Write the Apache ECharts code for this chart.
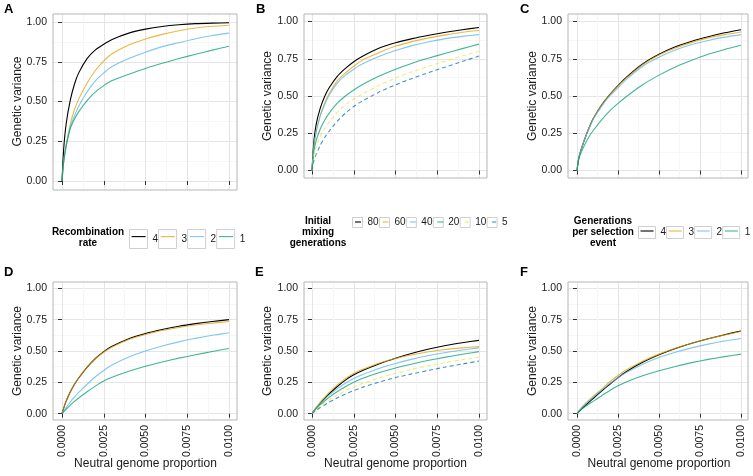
<!DOCTYPE html>
<html><head><meta charset="utf-8">
<script src="https://cdn.jsdelivr.net/npm/echarts@6/dist/echarts.min.js"></script>
<style>html,body{margin:0;padding:0;background:#fff}#c{width:753px;height:476px}</style>
</head><body><div id="c"></div>
<script>
// ---- data ----
const xValues = [0, 0.0001, 0.00025, 0.0005, 0.00075, 0.001, 0.0015, 0.002, 0.0025, 0.003, 0.004, 0.005, 0.006, 0.007, 0.008, 0.009, 0.01];

const recombLabels = ['4', '3', '2', '1'];
const mixingLabels = ['80', '60', '40', '20', '10', '5'];
const genLabels = ['4', '3', '2', '1'];
const yTickValues = [0, 0.25, 0.5, 0.75, 1];
const xTickValues = [0, 0.0025, 0.005, 0.0075, 0.01];

// Panel A: recombination rate
const aRate4 = [0, 0.20, 0.36, 0.51, 0.61, 0.68, 0.77, 0.825, 0.86, 0.89, 0.93, 0.955, 0.972, 0.983, 0.99, 0.993, 0.995];
const aRate3 = [0, 0.12, 0.23, 0.36, 0.45, 0.515, 0.615, 0.695, 0.755, 0.80, 0.855, 0.893, 0.922, 0.945, 0.962, 0.973, 0.98];
const aRate2 = [0, 0.12, 0.22, 0.34, 0.41, 0.47, 0.56, 0.63, 0.68, 0.72, 0.77, 0.81, 0.845, 0.87, 0.895, 0.915, 0.93];
const aRate1 = [0, 0.12, 0.22, 0.33, 0.39, 0.435, 0.505, 0.56, 0.60, 0.632, 0.672, 0.708, 0.74, 0.77, 0.797, 0.823, 0.848];
// Panel B: initial mixing generations
const bMix80 = [0, 0.18, 0.31, 0.42, 0.495, 0.55, 0.63, 0.685, 0.73, 0.765, 0.82, 0.857, 0.885, 0.908, 0.928, 0.945, 0.96];
const bMix60 = [0, 0.15, 0.26, 0.37, 0.45, 0.51, 0.60, 0.655, 0.70, 0.74, 0.79, 0.835, 0.865, 0.89, 0.91, 0.928, 0.94];
const bMix40 = [0, 0.15, 0.26, 0.37, 0.44, 0.50, 0.585, 0.64, 0.68, 0.715, 0.765, 0.805, 0.838, 0.864, 0.885, 0.90, 0.912];
const bMix20 = [0, 0.12, 0.20, 0.28, 0.335, 0.38, 0.45, 0.50, 0.54, 0.575, 0.632, 0.68, 0.72, 0.755, 0.787, 0.818, 0.848];
const bMix10 = [0, 0.10, 0.16, 0.23, 0.28, 0.32, 0.39, 0.44, 0.48, 0.513, 0.57, 0.62, 0.663, 0.70, 0.735, 0.768, 0.80];
const bMix5 = [0, 0.06, 0.11, 0.17, 0.22, 0.26, 0.33, 0.385, 0.43, 0.465, 0.525, 0.575, 0.618, 0.658, 0.695, 0.732, 0.768];
// Panel C: generations per selection event
const cGen4 = [0, 0.08, 0.14, 0.22, 0.29, 0.35, 0.44, 0.51, 0.57, 0.625, 0.715, 0.78, 0.83, 0.868, 0.898, 0.924, 0.945];
const cGen3 = [0, 0.08, 0.14, 0.22, 0.29, 0.35, 0.44, 0.51, 0.568, 0.62, 0.71, 0.775, 0.822, 0.86, 0.89, 0.912, 0.93];
const cGen2 = [0, 0.08, 0.14, 0.22, 0.285, 0.345, 0.43, 0.50, 0.555, 0.61, 0.70, 0.76, 0.808, 0.845, 0.873, 0.895, 0.912];
const cGen1 = [0, 0.07, 0.12, 0.18, 0.23, 0.27, 0.34, 0.40, 0.45, 0.495, 0.575, 0.64, 0.695, 0.74, 0.78, 0.812, 0.84];
// Panel D: recombination rate
const dRate4 = [0, 0.045, 0.10, 0.175, 0.235, 0.285, 0.37, 0.44, 0.495, 0.537, 0.598, 0.64, 0.672, 0.698, 0.718, 0.735, 0.75];
const dRate3 = [0, 0.045, 0.10, 0.175, 0.235, 0.285, 0.37, 0.438, 0.49, 0.532, 0.592, 0.632, 0.663, 0.688, 0.707, 0.722, 0.735];
const dRate2 = [0, 0.02, 0.05, 0.095, 0.135, 0.17, 0.235, 0.295, 0.345, 0.388, 0.452, 0.50, 0.54, 0.573, 0.601, 0.625, 0.645];
const dRate1 = [0, 0.015, 0.035, 0.068, 0.098, 0.125, 0.175, 0.22, 0.26, 0.29, 0.338, 0.378, 0.412, 0.443, 0.47, 0.496, 0.52];
// Panel E: initial mixing generations
const eMix80 = [0, 0.02, 0.045, 0.085, 0.12, 0.155, 0.215, 0.268, 0.31, 0.343, 0.397, 0.442, 0.482, 0.516, 0.544, 0.566, 0.585];
const eMix60 = [0, 0.022, 0.05, 0.093, 0.13, 0.165, 0.228, 0.28, 0.32, 0.352, 0.403, 0.44, 0.47, 0.494, 0.512, 0.525, 0.535];
const eMix40 = [0, 0.02, 0.045, 0.082, 0.115, 0.145, 0.198, 0.243, 0.28, 0.31, 0.36, 0.40, 0.435, 0.464, 0.488, 0.508, 0.525];
const eMix20 = [0, 0.018, 0.04, 0.072, 0.10, 0.128, 0.175, 0.215, 0.25, 0.28, 0.326, 0.365, 0.397, 0.426, 0.451, 0.474, 0.495];
const eMix10 = [0, 0.015, 0.033, 0.06, 0.085, 0.108, 0.148, 0.183, 0.213, 0.24, 0.285, 0.322, 0.354, 0.383, 0.408, 0.43, 0.45];
const eMix5 = [0, 0.012, 0.027, 0.05, 0.07, 0.09, 0.125, 0.157, 0.185, 0.21, 0.252, 0.288, 0.318, 0.346, 0.372, 0.396, 0.42];
// Panel F: generations per selection event
const fGen4 = [0, 0.015, 0.035, 0.065, 0.095, 0.123, 0.18, 0.235, 0.288, 0.335, 0.41, 0.47, 0.52, 0.562, 0.598, 0.63, 0.66];
const fGen3 = [0, 0.02, 0.045, 0.08, 0.11, 0.14, 0.196, 0.255, 0.305, 0.348, 0.418, 0.475, 0.522, 0.562, 0.597, 0.628, 0.655];
const fGen2 = [0, 0.02, 0.043, 0.075, 0.104, 0.132, 0.188, 0.24, 0.287, 0.328, 0.395, 0.448, 0.49, 0.525, 0.555, 0.58, 0.60];
const fGen1 = [0, 0.015, 0.032, 0.057, 0.08, 0.10, 0.143, 0.185, 0.222, 0.253, 0.302, 0.342, 0.377, 0.407, 0.433, 0.455, 0.475];

// ---- styles ----
const FONT = 'Liberation Sans, Arial, Helvetica, sans-serif';
const palette = ['#000000', '#E69F00', '#56B4E9', '#009E73', '#F0E442', '#0072B2'];
const dashes = ['solid', 'solid', 'solid', 'solid', [4, 3], [4, 3]];
const MAJOR = '#e5e5e5', MINOR = '#f7f7f7', BORDER = '#b5b5b5', TICK = '#333333', TXT = '#1a1a1a';

const panels = [
  { letter: 'A', ol: 53, or: 237, ot: 14, ob: 190, il: 62, ir: 229, it: 22, ib: 181, xlab: false, lx: 4, ly: 9, tx: 18, names: recombLabels, data: [aRate4, aRate3, aRate2, aRate1] },
  { letter: 'B', ol: 304, or: 487, ot: 14, ob: 178, il: 312, ir: 479, it: 21.5, ib: 170.5, xlab: false, lx: 256, ly: 9, tx: 268, names: mixingLabels, data: [bMix80, bMix60, bMix40, bMix20, bMix10, bMix5] },
  { letter: 'C', ol: 568, or: 748, ot: 14, ob: 178, il: 577, ir: 741, it: 21.5, ib: 170.5, xlab: false, lx: 520, ly: 9, tx: 533, names: genLabels, data: [cGen4, cGen3, cGen2, cGen1] },
  { letter: 'D', ol: 53, or: 237, ot: 282, ob: 420, il: 62, ir: 229, it: 288.3, ib: 413.7, xlab: true, lx: 4, ly: 272.5, tx: 18, names: recombLabels, data: [dRate4, dRate3, dRate2, dRate1] },
  { letter: 'E', ol: 304, or: 487, ot: 282, ob: 420, il: 312, ir: 479, it: 288.3, ib: 413.7, xlab: true, lx: 255, ly: 272.5, tx: 268, names: mixingLabels, data: [eMix80, eMix60, eMix40, eMix20, eMix10, eMix5] },
  { letter: 'F', ol: 568, or: 748, ot: 282, ob: 420, il: 577, ir: 741, it: 288.3, ib: 413.7, xlab: true, lx: 520, ly: 272.5, tx: 533, names: genLabels, data: [fGen4, fGen3, fGen2, fGen1] }
];

const grid = [], xAxis = [], yAxis = [], series = [], graphic = [];
const hiddenAxis = (gi) => ({ gridIndex: gi, type: 'value', show: false, min: 0, max: 1 });

panels.forEach(p => {
  const ow = p.or - p.ol, oh = p.ob - p.ot, iw = p.ir - p.il, ih = p.ib - p.it;
  // vertical grid lines spanning the full panel height
  let gi = grid.length;
  grid.push({ left: p.il, top: p.ot, width: iw, height: oh });
  xAxis.push({ gridIndex: gi, type: 'value', min: xTickValues[0], max: xTickValues[xTickValues.length - 1], interval: xTickValues[1] - xTickValues[0],
    axisLine: { show: false }, axisTick: { show: false }, axisLabel: { show: false },
    splitLine: { show: true, lineStyle: { color: MAJOR, width: 1 } },
    minorTick: { show: false, splitNumber: 2 }, minorSplitLine: { show: true, lineStyle: { color: MINOR, width: 1 } } });
  yAxis.push(hiddenAxis(gi));
  // horizontal grid lines spanning the full panel width
  gi = grid.length;
  grid.push({ left: p.ol, top: p.it, width: ow, height: ih });
  xAxis.push(hiddenAxis(gi));
  yAxis.push({ gridIndex: gi, type: 'value', min: yTickValues[0], max: yTickValues[yTickValues.length - 1], interval: yTickValues[1] - yTickValues[0],
    axisLine: { show: false }, axisTick: { show: false }, axisLabel: { show: false },
    splitLine: { show: true, lineStyle: { color: MAJOR, width: 1 } },
    minorTick: { show: false, splitNumber: 2 }, minorSplitLine: { show: true, lineStyle: { color: MINOR, width: 1 } } });
  // panel border
  gi = grid.length;
  grid.push({ left: p.ol, top: p.ot, width: ow, height: oh, show: true, borderColor: BORDER, borderWidth: 1, backgroundColor: 'transparent', z: 1 });
  xAxis.push(hiddenAxis(gi));
  yAxis.push(hiddenAxis(gi));
  // data grid
  gi = grid.length;
  grid.push({ left: p.il, top: p.it, width: iw, height: ih });
  const xi = xAxis.length, yi = yAxis.length;
  xAxis.push({ gridIndex: gi, type: 'value', min: xTickValues[0], max: xTickValues[xTickValues.length - 1], interval: xTickValues[1] - xTickValues[0],
    offset: p.ob - p.ib, axisLine: { show: false },
    axisTick: { show: true, length: 4, lineStyle: { color: TICK, width: 1 } },
    axisLabel: { show: p.xlab, rotate: 90, margin: 5, fontSize: 10.5, color: TXT, fontFamily: FONT, formatter: v => v.toFixed(4) },
    splitLine: { show: false } });
  yAxis.push({ gridIndex: gi, type: 'value', min: yTickValues[0], max: yTickValues[yTickValues.length - 1], interval: yTickValues[1] - yTickValues[0],
    offset: p.il - p.ol, axisLine: { show: false },
    axisTick: { show: true, length: 4, lineStyle: { color: TICK, width: 1 } },
    axisLabel: { show: true, margin: 6, fontSize: 10.5, color: TXT, fontFamily: FONT, formatter: v => v.toFixed(2) },
    splitLine: { show: false } });
  p.names.forEach((nm, k) => {
    series.push({ type: 'line', name: nm, xAxisIndex: xi, yAxisIndex: yi,
      data: xValues.map((x, j) => [x, p.data[k][j]]),
      symbol: 'none', showSymbol: false, smooth: 0.2, silent: true, z: 3,
      lineStyle: { color: palette[k], width: 1.1, type: dashes[k], opacity: k === 0 ? 1 : 0.75 },
      itemStyle: { color: palette[k] } });
  });
  graphic.push({ type: 'text', x: p.lx, y: p.ly, style: { text: p.letter, font: 'bold 13px ' + FONT, fill: '#000', textVerticalAlign: 'middle' } });
  graphic.push({ type: 'text', x: p.tx, y: (p.it + p.ib) / 2, rotation: Math.PI / 2,
    style: { text: 'Genetic variance', font: '12px ' + FONT, fill: TXT, textAlign: 'center', textVerticalAlign: 'middle' } });
  if (p.xlab) {
    graphic.push({ type: 'text', x: (p.il + p.ir) / 2, y: 464,
      style: { text: 'Neutral genome proportion', font: '12px ' + FONT, fill: TXT, textAlign: 'center', textVerticalAlign: 'middle' } });
  }
});

// legend titles
graphic.push({ type: 'text', x: 88, y: 237.5, style: { text: 'Recombination\nrate', font: 'bold 10px ' + FONT, lineHeight: 11, fill: '#000', textAlign: 'center', textVerticalAlign: 'middle' } });
graphic.push({ type: 'text', x: 318, y: 232, style: { text: 'Initial\nmixing\ngenerations', font: 'bold 10px ' + FONT, lineHeight: 11, fill: '#000', textAlign: 'center', textVerticalAlign: 'middle' } });
graphic.push({ type: 'text', x: 603, y: 232, style: { text: 'Generations\nper selection\nevent', font: 'bold 10px ' + FONT, lineHeight: 11, fill: '#000', textAlign: 'center', textVerticalAlign: 'middle' } });

// legends: a layer of key boxes and a layer of key lines
function legendPair(names, left, top, w, h, gap) {
  const base = { orient: 'horizontal', selectedMode: false, padding: 0, data: names, itemHeight: h, top: top, width: 300 };
  return [
    Object.assign({}, base, { left: left, itemWidth: w, itemGap: gap, icon: 'rect',
      itemStyle: { color: '#ffffff', borderColor: '#cfcfcf', borderWidth: 1 },
      textStyle: { fontSize: 10, color: TXT, fontFamily: FONT } }),
    Object.assign({}, base, { left: left + 2, itemWidth: w - 4, itemGap: gap + 4,
      itemStyle: { opacity: 0 }, lineStyle: { width: 1.1 },
      textStyle: { fontSize: 10, color: 'rgba(0,0,0,0)', fontFamily: FONT } })
  ];
}
const legend = [].concat(
  legendPair(recombLabels, 129, 229, 18, 19, 0),
  legendPair(mixingLabels, 352, 217, 10, 10, 0.3),
  legendPair(genLabels, 638, 226, 17, 12, 0)
);

const chart = echarts.init(document.getElementById('c'), null, { renderer: 'canvas' });
chart.setOption({
  animation: false,
  backgroundColor: '#ffffff',
  textStyle: { fontFamily: FONT },
  grid, xAxis, yAxis, series, legend, graphic
});
</script></body></html>
